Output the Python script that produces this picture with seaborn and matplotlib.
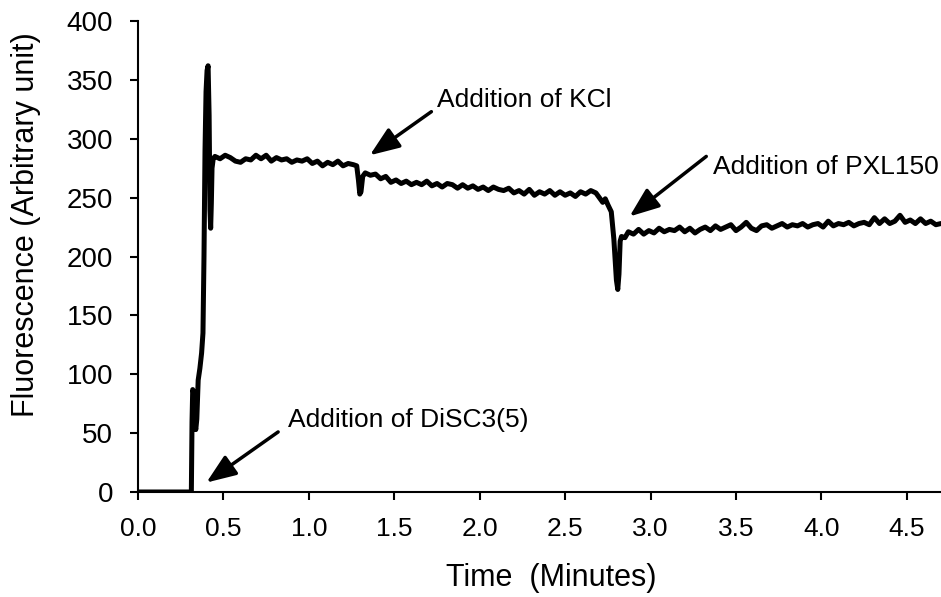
import numpy as np
import pandas as pd
import matplotlib
matplotlib.use("Agg")
import matplotlib.pyplot as plt
import seaborn as sns

# ----------------------------------------------------------
# data (time in minutes, fluorescence a.u.)
# ----------------------------------------------------------
t_start = [0.0, 0.30, 0.312, 0.316, 0.320, 0.326, 0.332, 0.338, 0.344, 0.352,
           0.362, 0.372, 0.380, 0.386, 0.392, 0.398, 0.404, 0.410, 0.416, 0.421,
           0.425, 0.429, 0.433, 0.440]
f_start = [0, 0, 0, 60, 87, 84, 58, 53, 62, 95,
           105, 118, 135, 200, 290, 340, 358, 362, 320, 240,
           224, 245, 275, 283]

t_plateau = [0.45, 0.48, 0.51, 0.54, 0.57, 0.60, 0.63, 0.66, 0.69, 0.72,
             0.75, 0.78, 0.81, 0.84, 0.87, 0.90, 0.93, 0.96, 0.99, 1.02,
             1.05, 1.08, 1.11, 1.14, 1.17, 1.20, 1.23, 1.26, 1.28]
f_plateau = [285, 283, 286, 284, 281, 280, 283, 282, 286, 283,
             286, 281, 284, 282, 283, 280, 282, 281, 283, 279,
             281, 277, 280, 278, 281, 277, 279, 278, 277]

t_kcl = [1.29, 1.298, 1.305, 1.315, 1.33, 1.36, 1.39, 1.42, 1.45, 1.48,
         1.51, 1.54, 1.57, 1.60, 1.63, 1.66, 1.69, 1.72, 1.75, 1.78,
         1.81, 1.84, 1.87, 1.90, 1.93, 1.96, 1.99, 2.02, 2.05, 2.08,
         2.11, 2.14, 2.17, 2.20, 2.23, 2.26, 2.29, 2.32, 2.35, 2.38,
         2.41, 2.44, 2.47, 2.50, 2.53, 2.56, 2.59, 2.62, 2.65, 2.68]
f_kcl = [265, 253, 255, 268, 271, 269, 270, 266, 268, 263,
         265, 262, 264, 261, 263, 261, 264, 260, 262, 259,
         262, 261, 258, 261, 258, 260, 257, 259, 256, 259,
         257, 256, 258, 254, 256, 253, 257, 252, 255, 253,
         256, 252, 255, 252, 254, 251, 255, 253, 256, 254]

t_pxl = [2.70, 2.72, 2.735, 2.75, 2.77, 2.785, 2.80, 2.808, 2.815, 2.822,
         2.83, 2.85, 2.87, 2.90, 2.93, 2.96, 2.99, 3.02, 3.05, 3.08,
         3.11, 3.14, 3.17, 3.20, 3.23, 3.26, 3.29, 3.32, 3.35, 3.38,
         3.41, 3.44, 3.47, 3.50, 3.53, 3.56, 3.59, 3.62, 3.65, 3.68,
         3.71, 3.74, 3.77, 3.80, 3.83, 3.86, 3.89, 3.92, 3.95, 3.98,
         4.01, 4.04, 4.07, 4.10, 4.13, 4.16, 4.19, 4.22, 4.25, 4.28,
         4.31, 4.34, 4.37, 4.40, 4.43, 4.46, 4.49, 4.52, 4.55, 4.58,
         4.61, 4.64, 4.67, 4.70]
f_pxl = [250, 246, 249, 244, 238, 215, 180, 172, 185, 213,
         217, 216, 221, 219, 223, 219, 222, 220, 224, 221,
         223, 222, 225, 221, 224, 220, 223, 225, 222, 226,
         223, 225, 227, 222, 225, 229, 224, 222, 226, 227,
         224, 226, 228, 225, 227, 226, 228, 225, 227, 228,
         225, 230, 226, 228, 227, 229, 226, 228, 229, 227,
         233, 228, 232, 228, 230, 235, 229, 231, 228, 232,
         228, 230, 227, 228]

df = pd.DataFrame({
    "time": t_start + t_plateau + t_kcl + t_pxl,
    "fluor": f_start + f_plateau + f_kcl + f_pxl,
})

x_ticks = [0.0, 0.5, 1.0, 1.5, 2.0, 2.5, 3.0, 3.5, 4.0, 4.5]
y_ticks = [0, 50, 100, 150, 200, 250, 300, 350, 400]

# annotations: label, text position, arrow tail, arrow head
notes = [
    ("Addition of DiSC3(5)", (0.877, 61), (0.82, 51), (0.40, 8)),
    ("Addition of KCl", (1.749, 333), (1.717, 323), (1.357, 286)),
    ("Addition of PXL150", (3.363, 276), (3.326, 285), (2.877, 234)),
]

# ----------------------------------------------------------
# plot
# ----------------------------------------------------------
sns.set_style("ticks")
plt.rcParams["font.family"] = ["Liberation Sans", "DejaVu Sans"]
plt.rcParams["text.color"] = "black"
plt.rcParams["axes.labelcolor"] = "black"

fig = plt.figure(figsize=(9.41, 5.97), dpi=100)
ax = fig.add_axes([0.1467, 0.1759, 0.8533, 0.7889])

sns.lineplot(data=df, x="time", y="fluor", ax=ax, color="black",
             linewidth=3.6, estimator=None, sort=False)
for line in ax.get_lines():
    line.set_solid_joinstyle("round")
    line.set_solid_capstyle("round")

ax.set_xlim(0, 4.7)
ax.set_ylim(0, 400)
ax.set_xticks(x_ticks)
ax.set_xticklabels([f"{v:.1f}" for v in x_ticks])
ax.set_yticks(y_ticks)
ax.tick_params(axis="both", length=6, width=1.5, color="black",
               labelcolor="black", direction="out")
ax.tick_params(axis="x", labelsize=19, pad=12)
ax.tick_params(axis="y", labelsize=20, pad=12)
for side in ["left", "bottom"]:
    ax.spines[side].set_linewidth(1.5)
    ax.spines[side].set_color("black")
sns.despine(ax=ax)

ax.set_xlabel("Time  (Minutes)", fontsize=22)
ax.set_ylabel("Fluorescence (Arbitrary unit)", fontsize=22)
ax.xaxis.set_label_coords(0.5143, -0.150)
ax.yaxis.set_label_coords(-0.1208, 0.567)

for label, txt_pos, tail, head in notes:
    ax.text(txt_pos[0], txt_pos[1], label, fontsize=19, ha="left", va="center")
    ax.annotate("", xy=head, xytext=tail,
                arrowprops=dict(arrowstyle="-|>,head_length=0.9,head_width=0.35",
                                color="black", lw=2.5, mutation_scale=20,
                                shrinkA=0, shrinkB=0))

fig.savefig("out.png", dpi=100)
plt.close(fig)
